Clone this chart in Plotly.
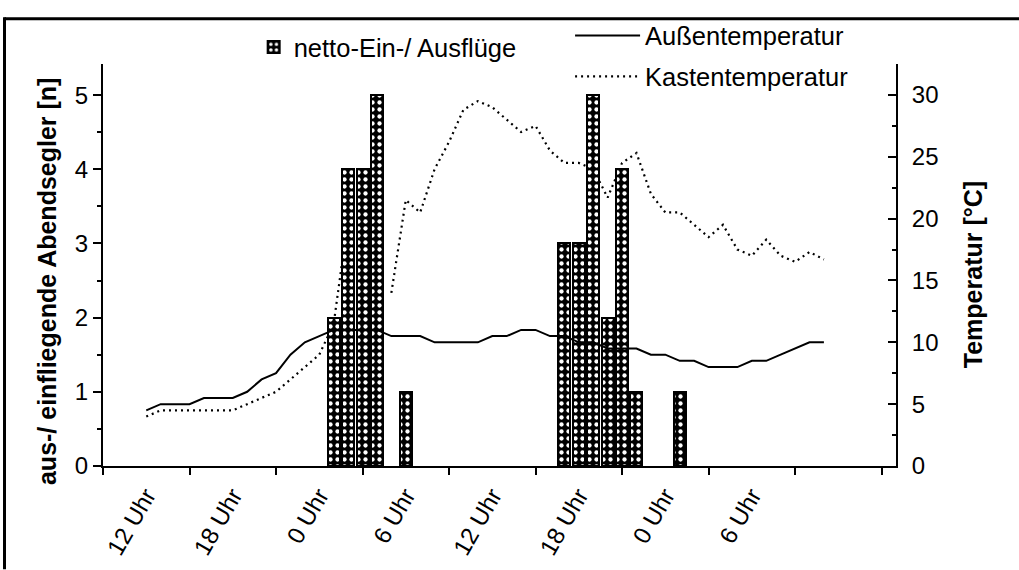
import plotly.graph_objects as go

# hours counted from the left end of the x axis (6 h per tick interval)
hours = list(range(3, 51))

aussen_temp = [4.5, 5.0, 5.0, 5.0, 5.5, 5.5, 5.5, 6.0, 7.0, 7.5, 9.0, 10.0, 10.5,
               11.0, 11.0, 11.0, 11.0, 10.5, 10.5, 10.5, 10.0, 10.0, 10.0, 10.0,
               10.5, 10.5, 11.0, 11.0, 10.5, 10.5, 10.0, 10.0, 9.5, 9.5, 9.5,
               9.0, 9.0, 8.5, 8.5, 8.0, 8.0, 8.0, 8.5, 8.5, 9.0, 9.5, 10.0, 10.0]

kasten_temp = [4.0, 4.5, 4.5, 4.5, 4.5, 4.5, 4.5, 5.0, 5.5, 6.0, 7.0, 8.0, 9.0,
               11.5, 20.0, None, None, 14.0, 21.5, 20.5, 24.0, 26.2, 28.8, 29.5,
               29.0, 28.0, 27.0, 27.5, 25.5, 24.5, 24.5, 24.0, 21.7, 24.5, 25.3,
               22.0, 20.5, 20.5, 19.5, 18.5, 19.5, 17.5, 17.0, 18.3, 17.0, 16.5,
               17.3, 16.7]

bar_hours = [16, 17, 18, 19, 21, 32, 33, 34, 35, 36, 37, 40]
netto_fluege = [2, 4, 4, 5, 1, 3, 3, 5, 2, 4, 1, 1]

label_pos = [3, 9, 15, 21, 27, 33, 39, 45]
label_text = ["12 Uhr", "18 Uhr", "0 Uhr", "6 Uhr", "12 Uhr", "18 Uhr", "0 Uhr", "6 Uhr"]
tick_pos = list(range(0, 55, 6))

FONT = "Arial, Liberation Sans, sans-serif"

fig = go.Figure()

# Kastentemperatur (drawn behind the bars)
fig.add_trace(go.Scatter(
    x=hours, y=kasten_temp, mode="lines", name="Kastentemperatur",
    line=dict(color="black", width=2.2, dash="2px,4px"),
    connectgaps=False, yaxis="y", legend="legend3",
))

# netto-Ein-/ Ausflüge: black bars with a staggered lattice of white dots
fig.add_trace(go.Bar(
    x=bar_hours, y=netto_fluege, width=0.83, name="netto-Ein-/ Ausflüge",
    marker=dict(color="black", line=dict(color="black", width=2),
                pattern=dict(shape=".", fgcolor="white", bgcolor="black",
                             fillmode="replace", size=7, solidity=0.3)),
    yaxis="y2", legend="legend",
))

# Außentemperatur (drawn on top of the bars)
fig.add_trace(go.Scatter(
    x=hours, y=aussen_temp, mode="lines", name="Außentemperatur",
    line=dict(color="black", width=2), yaxis="y3", legend="legend2",
))

temp_range = [0, 32.5]

fig.update_layout(
    width=1019, height=570,
    margin=dict(l=103, r=123, t=53, b=104),
    paper_bgcolor="white", plot_bgcolor="white",
    font=dict(family=FONT, size=24, color="black"),
    bargap=0,
    xaxis=dict(
        range=[0, 55], showline=True, linecolor="black", linewidth=2,
        showgrid=False, zeroline=False, automargin=False,
        tickmode="array", tickvals=label_pos, ticktext=label_text,
        ticks="", tickangle=-60, ticklabelstandoff=4,
        tickfont=dict(size=24, color="black"),
        minor=dict(tickmode="array", tickvals=tick_pos, ticks="outside",
                   ticklen=7, tickwidth=2, tickcolor="black"),
    ),
    yaxis=dict(
        range=temp_range, side="right", showline=True, linecolor="black",
        linewidth=2, showgrid=False, zeroline=False, automargin=False,
        tickmode="linear", tick0=0, dtick=5, ticks="inside", ticklen=8,
        tickwidth=2, tickcolor="black", ticklabelstandoff=9,
        tickfont=dict(size=24, color="black"),
        minor=dict(dtick=2.5, ticks="inside", ticklen=4, tickwidth=2,
                   tickcolor="black"),
    ),
    yaxis2=dict(
        range=[0, 5.42], side="left", overlaying="y", showline=True,
        linecolor="black", linewidth=2, showgrid=False, zeroline=False,
        automargin=False,
        tickmode="linear", tick0=0, dtick=1, ticks="outside", ticklen=8,
        tickwidth=2, tickcolor="black",
        tickfont=dict(size=24, color="black"),
        minor=dict(dtick=0.5, ticks="outside", ticklen=4, tickwidth=2,
                   tickcolor="black"),
    ),
    yaxis3=dict(
        range=temp_range, overlaying="y", visible=False, automargin=False,
    ),
    legend=dict(x=0.190, y=1.041, xanchor="left", yanchor="middle",
                bgcolor="rgba(0,0,0,0)", font=dict(size=25.5)),
    legend2=dict(x=0.589, y=1.07, xanchor="left", yanchor="middle",
                 bgcolor="rgba(0,0,0,0)", itemwidth=65, font=dict(size=25.5)),
    legend3=dict(x=0.589, y=0.968, xanchor="left", yanchor="middle",
                 bgcolor="rgba(0,0,0,0)", itemwidth=65, font=dict(size=25.5)),
    showlegend=True,
)

# axis titles
fig.add_annotation(
    text="<b>aus-/ einfliegende Abendsegler [n]</b>", textangle=-90,
    xref="paper", yref="paper", x=(47 - 103) / 793, y=(466 - 277) / 413,
    xanchor="center", yanchor="middle",
    showarrow=False, font=dict(size=25, color="black"),
)
fig.add_annotation(
    text="<b>Temperatur [°C]</b>", textangle=-90,
    xref="paper", yref="paper", x=(973 - 103) / 793, y=(466 - 270) / 413,
    xanchor="center", yanchor="middle",
    showarrow=False, font=dict(size=25, color="black"),
)

# frame lines at the top and left edge of the picture
fig.add_shape(type="line", xref="paper", yref="paper",
              x0=(4.5 - 103) / 793, x1=(1019 - 103) / 793,
              y0=(466 - 6.5) / 413, y1=(466 - 6.5) / 413,
              line=dict(color="black", width=3))
fig.add_shape(type="line", xref="paper", yref="paper",
              x0=(4.5 - 103) / 793, x1=(4.5 - 103) / 793,
              y0=(466 - 5) / 413, y1=(466 - 572) / 413,
              line=dict(color="black", width=3))

# drop the default page margin so the figure starts at the window corner
fig.write_html("out.html", config={"displayModeBar": False},
               post_script="document.body.style.margin='0';")
